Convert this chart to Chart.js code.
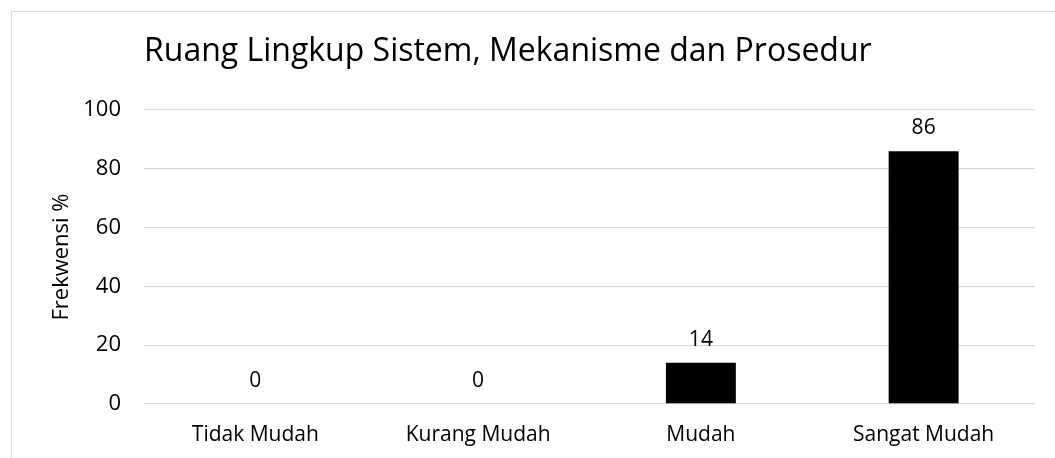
<!DOCTYPE html>
<html>
<head>
<meta charset="utf-8">
<script src="https://cdn.jsdelivr.net/npm/chart.js@4.4.0/dist/chart.umd.min.js"></script>
<style>
    body { margin: 0; background: #fff; overflow: hidden; }
    #frame { position: absolute; left: 11px; top: 11px; width: 1100px; height: 500px; border: 1px solid #d9d9d9; }
    #myBarChart { position: absolute; left: 0; top: 0; }
</style>
</head>
<body>
<div id="frame"></div>
<canvas id="myBarChart" width="1055" height="458"></canvas>
<script>
// Chart data
const categories = ['Tidak Mudah', 'Kurang Mudah', 'Mudah', 'Sangat Mudah'];
const frekwensi = [0, 0, 14, 86];
const yTicks = [0, 20, 40, 60, 80, 100];

const fontFamily = '"Open Sans", sans-serif';

// Draw the value above each bar
const valueLabels = {
    id: 'valueLabels',
    afterDatasetsDraw(chart) {
        const ctx = chart.ctx;
        const meta = chart.getDatasetMeta(0);
        ctx.save();
        ctx.font = '21px ' + fontFamily;
        ctx.fillStyle = '#000';
        ctx.textAlign = 'center';
        ctx.textBaseline = 'alphabetic';
        meta.data.forEach((bar, i) => {
            ctx.fillText(String(frekwensi[i]), bar.x, bar.y - 17);
        });
        ctx.restore();
    }
};

const ctx = document.getElementById('myBarChart').getContext('2d');
const myBarChart = new Chart(ctx, {
    type: 'bar',
    data: {
        labels: categories,
        datasets: [{
            label: 'Frekwensi %',
            data: frekwensi,
            backgroundColor: '#000',
            borderWidth: 0,
            categoryPercentage: 1,
            barPercentage: 0.314
        }]
    },
    options: {
        responsive: false,
        animation: false,
        layout: {
            padding: { left: 49, right: 20, top: 20, bottom: 0 }
        },
        plugins: {
            legend: { display: false },
            tooltip: { enabled: false },
            title: {
                display: true,
                text: 'Ruang Lingkup Sistem, Mekanisme dan Prosedur',
                align: 'start',
                fullSize: false,
                color: '#000',
                font: { family: fontFamily, size: 32, weight: 'normal' },
                padding: { top: 13, bottom: 38.6 }
            }
        },
        scales: {
            x: {
                grid: { display: false, drawTicks: false },
                border: { display: false },
                ticks: {
                    color: '#000',
                    padding: 18,
                    font: { family: fontFamily, size: 21 }
                },
                afterFit(scale) { scale.height = 54; }
            },
            y: {
                min: 0,
                max: 100,
                afterBuildTicks(scale) {
                    scale.ticks = yTicks.map(v => ({ value: v }));
                },
                grid: { color: '#d9d9d9', lineWidth: 1.3, drawTicks: false },
                border: { display: false },
                ticks: {
                    color: '#000',
                    padding: 23,
                    font: { family: fontFamily, size: 22 }
                },
                title: {
                    display: true,
                    text: 'Frekwensi %',
                    color: '#000',
                    font: { family: fontFamily, size: 22 },
                    padding: { top: 0, bottom: 10 }
                },
                afterFit(scale) { scale.width = 95; }
            }
        }
    },
    plugins: [valueLabels]
});
</script>
</body>
</html>
